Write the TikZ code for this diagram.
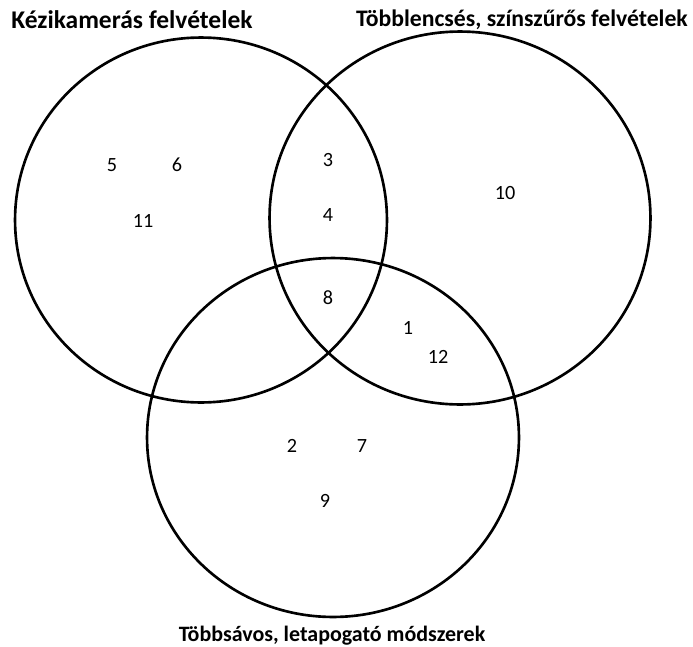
\documentclass[tikz,border=0pt]{standalone}
\usepackage{fontspec}
\setmainfont{Carlito}

\begin{document}
\begin{tikzpicture}[x=0.02cm,y=-0.02cm]
\tikzset{setring/.style={line width=1.5pt},
	setname/.style={font=\bfseries\fontsize{13.5}{15}\selectfont},
	elem/.style={font=\fontsize{11.5}{13}\selectfont}}
\useasboundingbox (0,0) rectangle (693,646);

\node[setname, font=\bfseries\fontsize{14.5}{16}\selectfont] (hand) at (132, 20) {Kézikamerás felvételek};
\node[setname] (lens) at (522, 20) {Többlencsés, színszűrős felvételek};
\node[setname, font=\bfseries\fontsize{12.5}{14}\selectfont] (scan) at (332, 636) {Többsávos, letapogató módszerek};

\draw[setring] (201, 220) ellipse [x radius=3.72cm, y radius=3.65cm];
\draw[setring] (460, 218) ellipse [x radius=3.81cm, y radius=3.73cm];
\draw[setring] (333, 437.5) ellipse [x radius=3.72cm, y radius=3.59cm];

\foreach \x/\y/\z in {112/165/5, 177/165/6, 143/221/11, 328/160/3, 328/215/4, 505/193/10,
	328/298/8, 408/328/1, 438/357/12, 292/446/2, 362/446/7, 325/501/9}
	\node[elem] (n\z) at (\x, \y) {\z};
\end{tikzpicture}
\end{document}
